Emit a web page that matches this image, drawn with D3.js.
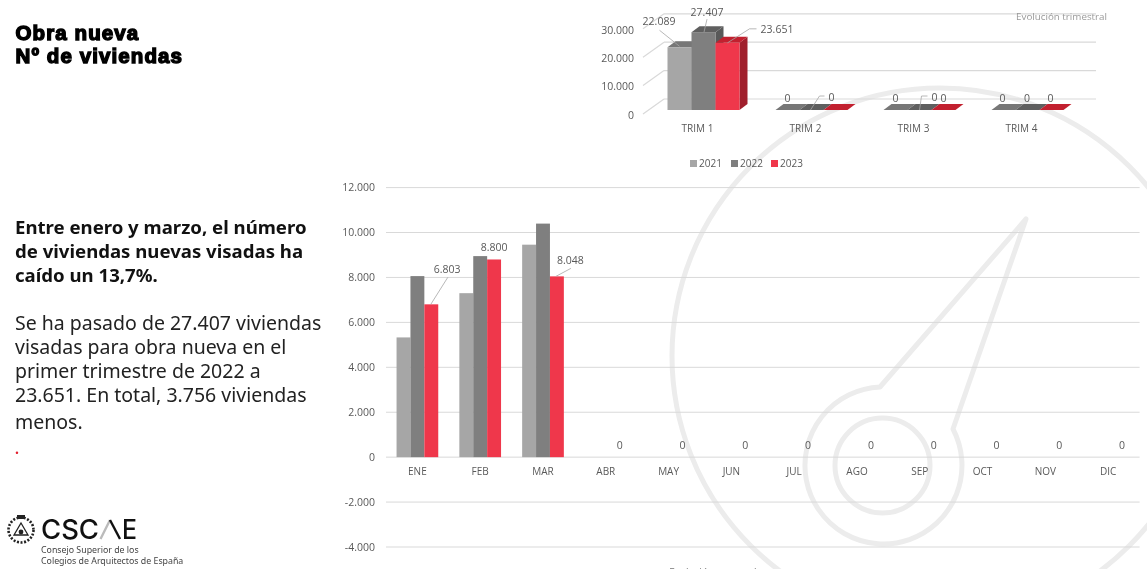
<!DOCTYPE html>
<html>
<head>
<meta charset="utf-8">
<script src="https://cdn.jsdelivr.net/npm/d3@7"></script>
<style>
  html, body { margin: 0; padding: 0; background: #fff; overflow: hidden; }
  svg { display: block; will-change: opacity; }
  text { font-family: "Open Sans", sans-serif; }
  .domain { display: none; }
</style>
</head>
<body>
<svg id="slide" width="1147" height="569"></svg>
<script>
const years = ['2021', '2022', '2023']
    , months = ['ENE', 'FEB', 'MAR', 'ABR', 'MAY', 'JUN', 'JUL', 'AGO', 'SEP', 'OCT', 'NOV', 'DIC']
    , quarters = ['TRIM 1', 'TRIM 2', 'TRIM 3', 'TRIM 4']
    ;

// months without data stay out of the bars, only the 2023 zero label shows
const monthly2021 = [5330, 7300, 9459, 0, 0, 0, 0, 0, 0, 0, 0, 0]
    , monthly2022 = [8060, 8950, 10397, 0, 0, 0, 0, 0, 0, 0, 0, 0]
    , monthly2023 = [6803, 8800, 8048, 0, 0, 0, 0, 0, 0, 0, 0, 0]
    ;

const quarterly2021 = [22089, 0, 0, 0]
    , quarterly2022 = [27407, 0, 0, 0]
    , quarterly2023 = [23651, 0, 0, 0]
    ;

const monthTicks = [-4000, -2000, 0, 2000, 4000, 6000, 8000, 10000, 12000]
    , quarterTicks = [0, 10000, 20000, 30000]
    ;

const titleLines = ['Obra nueva', 'Nº de viviendas']
    , leadLines = ['Entre enero y marzo, el número', 'de viviendas nuevas visadas ha', 'caído un 13,7%.']
    , bodyLines = ['Se ha pasado de 27.407 viviendas', 'visadas para obra nueva en el', 'primer trimestre de 2022 a', '23.651. En total, 3.756 viviendas', 'menos.']
    ;

const colors = ['#a6a6a6', '#7f7f7f', '#ef374b']
    , topColors = ['#777777', '#5f5f5f', '#c2202f']
    , sideColors = ['#808080', '#595959', '#a01f2c']
    , textColor = '#595959'
    , gridColor = '#d9d9d9'
    , markColor = '#ececec'
    ;

const fmt = d3.formatLocale({ decimal: ',', thousands: '.', grouping: [3], currency: ['', '€'], minus: '-' }).format(',d');
const svg = d3.select('#slide');

drawWatermark();
drawCopy();
drawLogo();
drawQuarterChart();
drawMonthChart();

function drawWatermark() {
  const g = svg.append('g')
    .attr('fill', 'none')
    .attr('stroke', markColor)
    .attr('stroke-width', 5);

  g.append('circle').attr('cx', 940).attr('cy', 356).attr('r', 268);
  g.append('circle').attr('cx', 882.5).attr('cy', 465.5).attr('r', 47.5);
  g.append('path')
    .attr('stroke-linejoin', 'round')
    .attr('d', 'M880,387 L1026,219 L953,429 A78.5,78.5 0 1 1 880,387 Z');
}

function drawCopy() {
  svg.append('g').selectAll('text')
    .data(titleLines)
    .join('text')
      .attr('x', 15.5)
      .attr('y', (d, i) => 40 + i * 23)
      .attr('fill', '#000')
      .attr('stroke', '#000')
      .attr('stroke-width', 1.4)
      .style('font', 'bold 20.5px "Liberation Sans", sans-serif')
      .style('letter-spacing', '1.1px')
      .text(d => d);

  svg.append('g').selectAll('text')
    .data(leadLines)
    .join('text')
      .attr('x', 15)
      .attr('y', (d, i) => 234 + i * 24)
      .attr('fill', '#111')
      .style('font', 'bold 18.6px "Noto Sans", sans-serif')
      .text(d => d);

  svg.append('g').selectAll('text')
    .data(bodyLines)
    .join('text')
      .attr('x', 15)
      .attr('y', (d, i) => 330 + i * 24 + (i === 4 ? 3 : 0))
      .attr('fill', '#222')
      .style('font', '19.5px "Noto Sans", sans-serif')
      .text(d => d);

  svg.append('text')
    .attr('x', 15)
    .attr('y', 454)
    .attr('fill', '#e3202f')
    .style('font', 'bold 14px "Noto Sans", sans-serif')
    .text('.');
}

function drawLogo() {
  const g = svg.append('g');

  // emblem: wreath, crown and compass shape
  const emblem = g.append('g').attr('transform', 'translate(21,530)')
    .attr('fill', 'none')
    .attr('stroke', '#222');
  emblem.append('circle').attr('r', 12.5).attr('stroke-width', 2.6).attr('stroke-dasharray', '2 1.6');
  emblem.append('path').attr('d', 'M0,-7 L7,5 L-7,5 Z').attr('stroke-width', 1.3);
  emblem.append('circle').attr('cy', 2).attr('r', 2.4).attr('fill', '#222').attr('stroke', 'none');
  emblem.append('rect').attr('x', -4).attr('y', -15).attr('width', 8).attr('height', 4).attr('fill', '#222').attr('stroke', 'none');

  g.append('text')
    .attr('x', 41)
    .attr('y', 539)
    .attr('fill', '#111')
    .style('font', '500 27px Inter, sans-serif')
    .attr('textLength', 58)
    .attr('lengthAdjust', 'spacingAndGlyphs')
    .text('CSC');
  g.append('path')
    .attr('d', 'M100.5,539 L110,520')
    .attr('fill', 'none')
    .attr('stroke', '#bbb')
    .attr('stroke-width', 2.4);
  g.append('path')
    .attr('d', 'M110,520 L120,539')
    .attr('fill', 'none')
    .attr('stroke', '#111')
    .attr('stroke-width', 2.4);
  g.append('text')
    .attr('x', 122)
    .attr('y', 539)
    .attr('fill', '#111')
    .style('font', '500 27px Inter, sans-serif')
    .attr('textLength', 15)
    .attr('lengthAdjust', 'spacingAndGlyphs')
    .text('E');

  g.selectAll('text.sub')
    .data(['Consejo Superior de los', 'Colegios de Arquitectos de España'])
    .join('text')
      .attr('class', 'sub')
      .attr('x', 41)
      .attr('y', (d, i) => 553 + i * 10.5)
      .attr('fill', '#444')
      .style('font', '8.8px "Noto Sans", sans-serif')
      .text(d => d);
}

function drawQuarterChart() {
  const depthX = 8
      , depthY = 6
      , x = d3.scaleBand().domain(quarters).range([649.5, 1081.5])
      , y = d3.scaleLinear().domain([0, 30000]).range([110, 24.8])
      , series = [quarterly2021, quarterly2022, quarterly2023]
      , barW = 24
      , g = svg.append('g')
      ;

  // back wall and side wall gridlines
  const grid = g.append('g').attr('stroke', gridColor).attr('stroke-width', 1.2);
  grid.selectAll('line.back')
    .data(quarterTicks)
    .join('line')
      .attr('class', 'back')
      .attr('x1', 664)
      .attr('x2', 1096)
      .attr('y1', d => y(d) - 11)
      .attr('y2', d => y(d) - 11);
  grid.selectAll('line.side')
    .data(quarterTicks)
    .join('line')
      .attr('class', 'side')
      .attr('x1', 643)
      .attr('x2', 664)
      .attr('y1', d => y(d) + 4)
      .attr('y2', d => y(d) - 11);

  g.append('g')
    .attr('transform', 'translate(634,5)')
    .call(d3.axisLeft(y).tickValues(quarterTicks).tickFormat(fmt).tickSize(0).tickPadding(0))
    .call(a => a.selectAll('text').attr('fill', textColor).style('font', '10.5px "Open Sans", sans-serif'));

  g.append('g').selectAll('text')
    .data(quarters)
    .join('text')
      .attr('x', d => x(d) + x.bandwidth() / 2 - 6)
      .attr('y', 132)
      .attr('text-anchor', 'middle')
      .attr('fill', textColor)
      .style('font', '10px "Open Sans", sans-serif')
      .text(d => d);

  const bars = quarters.flatMap((q, i) => years.map((yr, s) => ({
    q, i, s, value: series[s][i], x0: x(q) + x.bandwidth() / 2 - 1.5 * barW + s * barW
  })));

  const bar = g.append('g').selectAll('g').data(bars).join('g');

  bar.append('path')
    .attr('fill', d => sideColors[d.s])
    .attr('d', d => d.value ? `M${d.x0 + barW},${y(0)}l${depthX},${-depthY}V${y(d.value) - depthY}l${-depthX},${depthY}Z` : null);
  bar.append('path')
    .attr('fill', d => topColors[d.s])
    .attr('d', d => `M${d.x0},${y(d.value)}l${depthX},${-depthY}h${barW}l${-depthX},${depthY}Z`);
  bar.append('rect')
    .attr('x', d => d.x0)
    .attr('y', d => y(d.value))
    .attr('width', barW)
    .attr('height', d => y(0) - y(d.value))
    .attr('fill', d => colors[d.s]);

  // value labels were moved by hand in the source chart: offset from the centre of each bar's front top
  const labelShift = [
    [[-20.5, -26], [3.5, -19.5], [49.5, -13.3]],
    [[0, -12], [20, -13], null],
    [[0, -12], [15, -13], [0, -12]],
    [[-1, -12], [-0.5, -12], [-1, -12]]
  ];

  g.append('g').selectAll('text')
    .data(bars.filter(d => labelShift[d.i][d.s]))
    .join('text')
      .attr('x', d => d.x0 + barW / 2 + labelShift[d.i][d.s][0])
      .attr('y', d => y(d.value) + labelShift[d.i][d.s][1] + 3.5)
      .attr('text-anchor', 'middle')
      .attr('fill', textColor)
      .style('font', '10.5px "Open Sans", sans-serif')
      .text(d => fmt(d.value));

  const at = (i, s) => [x(quarters[i]) + x.bandwidth() / 2 - 1.5 * barW + s * barW, y(series[s][i])];

  const leaders = [
    [[at(0, 0)[0] - 8, at(0, 0)[1] - 17], [at(0, 0)[0] + 12, at(0, 0)[1] - 1]],
    [[at(0, 1)[0] + 15.5, at(0, 1)[1] - 13], [at(0, 1)[0] + 12.5, at(0, 1)[1]]],
    [[at(0, 2)[0] + 41, at(0, 2)[1] - 14], [at(0, 2)[0] + 34, at(0, 2)[1] - 14], [at(0, 2)[0] + 12, at(0, 2)[1]]],
    [[at(1, 1)[0] + 25, at(1, 1)[1] - 14], [at(1, 1)[0] + 20, at(1, 1)[1] - 14], [at(1, 1)[0] + 11, at(1, 1)[1]]],
    [[at(2, 1)[0] + 20, at(2, 1)[1] - 14], [at(2, 1)[0] + 14, at(2, 1)[1] - 14], [at(2, 1)[0] + 12, at(2, 1)[1]]]
  ];
  g.append('g').attr('fill', 'none').attr('stroke', '#a6a6a6').attr('stroke-width', 0.8)
    .selectAll('path').data(leaders).join('path').attr('d', d3.line());

  // legend
  const legendX = [690, 731, 771];
  const leg = g.append('g').selectAll('g').data(years).join('g')
    .attr('transform', (d, i) => `translate(${legendX[i]},160)`);
  leg.append('rect').attr('width', 7).attr('height', 7).attr('fill', (d, i) => colors[i]);
  leg.append('text')
    .attr('x', 9)
    .attr('y', 7.2)
    .attr('fill', textColor)
    .style('font', '10px "Open Sans", sans-serif')
    .text(d => d);

  g.append('text')
    .attr('x', 1107)
    .attr('y', 20)
    .attr('text-anchor', 'end')
    .attr('fill', '#999')
    .style('font', '9.8px "Open Sans", sans-serif')
    .text('Evolución trimestral');
}

function drawMonthChart() {
  const x = d3.scaleBand().domain(months).range([386, 1139.6])
      , y = d3.scaleLinear().domain([-4000, 12000]).range([547, 187.6])
      , barW = 13.9
      , series = [monthly2021, monthly2022, monthly2023]
      , g = svg.append('g')
      ;

  g.append('g')
    .attr('transform', 'translate(375,0)')
    .call(d3.axisLeft(y).tickValues(monthTicks).tickFormat(fmt).tickSize(0).tickPadding(0))
    .call(a => a.selectAll('text').attr('fill', textColor).style('font', '10.5px "Open Sans", sans-serif'));

  g.append('g').selectAll('line')
    .data(monthTicks)
    .join('line')
      .attr('x1', 386)
      .attr('x2', 1139.6)
      .attr('y1', d => y(d))
      .attr('y2', d => y(d))
      .attr('stroke', gridColor);

  const barX = (m, s) => x(m) + x.bandwidth() / 2 - 1.5 * barW + s * barW;

  series.forEach((vals, s) => {
    g.append('g').selectAll('rect')
      .data(vals.map((v, i) => ({ m: months[i], v })).filter(d => d.v > 0))
      .join('rect')
        .attr('x', d => barX(d.m, s))
        .attr('y', d => y(d.v))
        .attr('width', barW)
        .attr('height', d => y(0) - y(d.v))
        .attr('fill', colors[s]);
  });

  g.append('g').selectAll('text')
    .data(months)
    .join('text')
      .attr('x', d => x(d) + x.bandwidth() / 2)
      .attr('y', 475)
      .attr('text-anchor', 'middle')
      .attr('fill', textColor)
      .style('font', '10px "Open Sans", sans-serif')
      .text(d => d);

  // 2023 labels; the first three were pulled off the bars in the source
  const labelLift = [[15.8, -35], [0, -12.4], [13.5, -15.7]];
  g.append('g').selectAll('text')
    .data(monthly2023.map((v, i) => ({ m: months[i], v, i })))
    .join('text')
      .attr('x', d => barX(d.m, 2) + barW / 2 + (d.i < 3 ? labelLift[d.i][0] : 0))
      .attr('y', d => y(d.v) + (d.i < 3 ? labelLift[d.i][1] : -12) + 3.5)
      .attr('text-anchor', 'middle')
      .attr('fill', textColor)
      .style('font', '10.5px "Open Sans", sans-serif')
      .text(d => fmt(d.v));

  const tip = i => [barX(months[i], 2) + barW / 2, y(monthly2023[i])];
  const leaders = [
    [[tip(0)[0] + 16.5, tip(0)[1] - 27], [tip(0)[0] - 0.5, tip(0)[1]]],
    [[tip(2)[0] + 14, tip(2)[1] - 8], [tip(2)[0] - 1, tip(2)[1]]]
  ];
  g.append('g').attr('fill', 'none').attr('stroke', '#a6a6a6').attr('stroke-width', 0.8)
    .selectAll('path').data(leaders).join('path').attr('d', d3.line());

  g.append('text')
    .attr('x', 713)
    .attr('y', 576)
    .attr('text-anchor', 'middle')
    .attr('fill', '#777')
    .style('font', '10px "Open Sans", sans-serif')
    .text('Evolución mensual');
}
</script>
</body>
</html>
